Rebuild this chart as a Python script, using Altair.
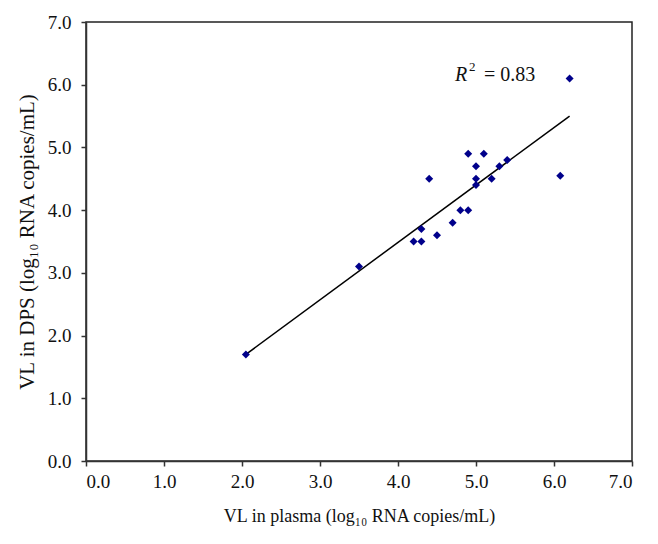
import altair as alt
import pandas as pd

plasma = [2.05, 3.5, 4.2, 4.3, 4.3, 4.4, 4.5, 4.7, 4.8, 4.9, 4.9, 5.0, 5.0, 5.0, 5.1, 5.2, 5.3, 5.4, 6.08, 6.2]
dps    = [1.7, 3.1, 3.5, 3.5, 3.7, 4.5, 3.6, 3.8, 4.0, 4.0, 4.9, 4.7, 4.5, 4.4, 4.9, 4.5, 4.7, 4.8, 4.55, 6.1]

fit_x = [2.05, 6.2]
fit_y = [1.7, 5.5]

ticks = [0, 1, 2, 3, 4, 5, 6, 7]
r2_label = "= 0.83"

pts = pd.DataFrame({"x": plasma, "y": dps})
fit = pd.DataFrame({"x": fit_x, "y": fit_y})
ann = pd.DataFrame({"x": [4.73], "y": [6.16]})

FONT = "Liberation Serif"

xs = alt.Scale(domain=[0, 7], nice=False)
ys = alt.Scale(domain=[0, 7], nice=False)

xax = alt.Axis(values=ticks, format=".1f", title="VL in plasma (log₁₀ RNA copies/mL)",
               grid=False, tickSize=5, labelPadding=6, titlePadding=16)
yax = alt.Axis(values=ticks, format=".1f", title="VL in DPS (log₁₀ RNA copies/mL)",
               grid=False, tickSize=5, labelPadding=10, titlePadding=10, titleFontSize=21)

points = alt.Chart(pts).mark_point(shape="diamond", filled=True, size=64, color="#00008B", opacity=1).encode(
    x=alt.X("x:Q", scale=xs, axis=xax),
    y=alt.Y("y:Q", scale=ys, axis=yax),
)

line = alt.Chart(fit).mark_line(color="black", strokeWidth=1.5).encode(
    x=alt.X("x:Q", scale=xs),
    y=alt.Y("y:Q", scale=ys),
)

r_txt = alt.Chart(ann).mark_text(text="R", fontStyle="italic", font=FONT, fontSize=20,
                                 align="left", baseline="middle", dx=0, color="#111111").encode(
    x=alt.X("x:Q", scale=xs), y=alt.Y("y:Q", scale=ys))
sup_txt = alt.Chart(ann).mark_text(text="2", font=FONT, fontSize=13,
                                   align="left", baseline="middle", dx=14, dy=-8, color="#111111").encode(
    x=alt.X("x:Q", scale=xs), y=alt.Y("y:Q", scale=ys))
eq_txt = alt.Chart(ann).mark_text(text=r2_label, font=FONT, fontSize=20,
                                  align="left", baseline="middle", dx=29, color="#111111").encode(
    x=alt.X("x:Q", scale=xs), y=alt.Y("y:Q", scale=ys))

chart = alt.layer(line, points, r_txt, sup_txt, eq_txt).properties(
    width=546, height=439,
    autosize=alt.AutoSizeParams(type="none"),
    padding={"left": 78, "top": 14, "right": 10, "bottom": 80},
).configure_view(
    stroke="#222222", strokeWidth=1.5
).configure_axis(
    labelFont=FONT, titleFont=FONT, labelFontSize=19, titleFontSize=18,
    titleFontWeight="normal", labelColor="#111111", titleColor="#111111",
    domainColor="#333333", tickColor="#333333", domainWidth=1.5, tickWidth=1.5,
)

chart.save("out.html", embed_options={"renderer": "svg", "actions": False})
